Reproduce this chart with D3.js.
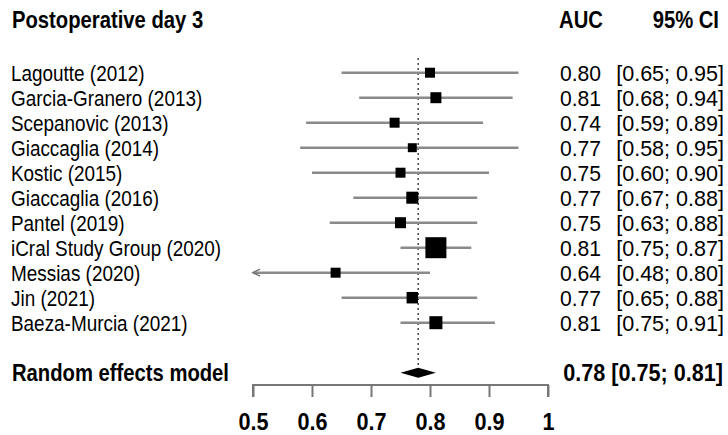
<!DOCTYPE html>
<html>
<head>
<meta charset="utf-8">
<script src="https://cdn.jsdelivr.net/npm/d3@7"></script>
<style>
  html, body { margin: 0; padding: 0; background: #fff; }
  svg text { font-family: "Liberation Sans", Arial, sans-serif; fill: #000; }
  .bold { font-weight: bold; }
</style>
</head>
<body>
<div id="chart"></div>
<script>
// ---------- Data ----------
const studies = [
  "Lagoutte (2012)", "Garcia-Granero (2013)", "Scepanovic (2013)", "Giaccaglia (2014)",
  "Kostic (2015)", "Giaccaglia (2016)", "Pantel (2019)", "iCral Study Group (2020)",
  "Messias (2020)", "Jin (2021)", "Baeza-Murcia (2021)"
];
const auc   = [0.80, 0.81, 0.74, 0.77, 0.75, 0.77, 0.75, 0.81, 0.64, 0.77, 0.81];
const lower = [0.65, 0.68, 0.59, 0.58, 0.60, 0.67, 0.63, 0.75, 0.48, 0.65, 0.75];
const upper = [0.95, 0.94, 0.89, 0.95, 0.90, 0.88, 0.88, 0.87, 0.80, 0.88, 0.91];
const weights = [6.2, 7.5, 6.2, 5.0, 6.2, 9.0, 7.5, 27.4, 6.2, 8.2, 10.5];
const pooled = { label: "Random effects model", est: 0.78, lo: 0.75, hi: 0.81 };
const ticks = [0.5, 0.6, 0.7, 0.8, 0.9, 1];

const fmt = d3.format(".2f");
const W = 728, H = 435;
// font size + horizontal squeeze per text kind
const NAME = { size: 22, sx: 0.86 };
const NUM  = { size: 22, sx: 0.96 };
const CI   = { size: 22, sx: 0.98 };
const BLD  = { size: 23, sx: 0.88 };
const BNUM = { size: 23, sx: 0.94 };

const svg = d3.select("#chart").append("svg").attr("width", W).attr("height", H);

const x = d3.scaleLinear().domain([0.5, 1]).range([253, 548]);
const y = d3.scaleLinear().domain([0, 12]).range([72.7, 372.7]);
const size = d3.scaleSqrt().domain([0, 27.4]).range([0, 21]);

const rowData = studies.map((name, i) => ({
  name, i, auc: auc[i], lo: lower[i], hi: upper[i], w: weights[i]
}));

// helper: text squeezed horizontally
function label(sel, px, py, txt, style, anchor = "start", bold = false) {
  return sel.append("text")
    .attr("class", bold ? "bold" : null)
    .attr("transform", `translate(${px},${py}) scale(${style.sx},1)`)
    .attr("font-size", style.size)
    .attr("text-anchor", anchor)
    .text(txt);
}

// ---------- Headers ----------
label(svg, 12, 28, "Postoperative day 3", BLD, "start", true);
label(svg, 581, 28, "AUC", BLD, "middle", true);
label(svg, 719, 28, "95% CI", BLD, "end", true);

// ---------- Reference (pooled) line ----------
svg.append("line")
  .attr("x1", x(pooled.est)).attr("x2", x(pooled.est))
  .attr("y1", 58).attr("y2", y(12) - 6)
  .attr("stroke", "#444").attr("stroke-width", 1.5)
  .attr("stroke-dasharray", "2,3");

// ---------- Study rows ----------
const rows = svg.append("g").selectAll("g").data(rowData).enter().append("g");

rows.append("line")
  .attr("x1", d => x(Math.max(0.5, d.lo)))
  .attr("x2", d => x(Math.min(1, d.hi)))
  .attr("y1", d => y(d.i)).attr("y2", d => y(d.i))
  .attr("stroke", "#8a8a8a").attr("stroke-width", 2.5);

// arrow where CI runs past the axis
rows.filter(d => d.lo < 0.5).append("path")
  .attr("d", d => `M${x(0.5) + 7},${y(d.i) - 3.5} L${x(0.5)},${y(d.i)} L${x(0.5) + 7},${y(d.i) + 3.5}`)
  .attr("fill", "none").attr("stroke", "#777").attr("stroke-width", 1.5);

rows.append("rect")
  .attr("x", d => x(d.auc) - size(d.w) / 2)
  .attr("y", d => y(d.i) - size(d.w) / 2)
  .attr("width", d => size(d.w))
  .attr("height", d => size(d.w))
  .attr("fill", "#000");

rows.each(function (d) {
  const g = d3.select(this);
  const ty = y(d.i) + 8;
  label(g, 11, ty, d.name, NAME);
  label(g, 601, ty, fmt(d.auc), NUM, "end");
  label(g, 724, ty, `[${fmt(d.lo)}; ${fmt(d.hi)}]`, CI, "end");
});

// ---------- Pooled diamond ----------
const py = y(12);
svg.append("path")
  .attr("d", `M${x(pooled.lo)},${py} L${x(pooled.est)},${py - 5} L${x(pooled.hi)},${py} L${x(pooled.est)},${py + 5} Z`)
  .attr("fill", "#000");
label(svg, 12, py + 8, pooled.label, BLD, "start", true);
label(svg, 723, py + 8, `${fmt(pooled.est)} [${fmt(pooled.lo)}; ${fmt(pooled.hi)}]`, BNUM, "end", true);

// ---------- Axis ----------
const axis = svg.append("g").attr("transform", "translate(0,385)")
  .call(d3.axisBottom(x).tickValues(ticks).tickSize(12)
    .tickFormat(d => d === 1 ? "1" : d3.format(".1f")(d)));
axis.attr("font-family", null).attr("font-size", null);
axis.select(".domain").attr("stroke", "#777").attr("stroke-width", 2)
  .attr("d", `M${x(0.5)},12V0H${x(1)}V12`);
axis.selectAll(".tick line").attr("stroke", "#777").attr("stroke-width", 2);
axis.selectAll(".tick text").attr("class", "bold")
  .attr("y", null).attr("dy", null)
  .attr("font-size", BNUM.size)
  .attr("transform", `translate(0,45) scale(${BNUM.sx},1)`);
</script>
</body>
</html>
